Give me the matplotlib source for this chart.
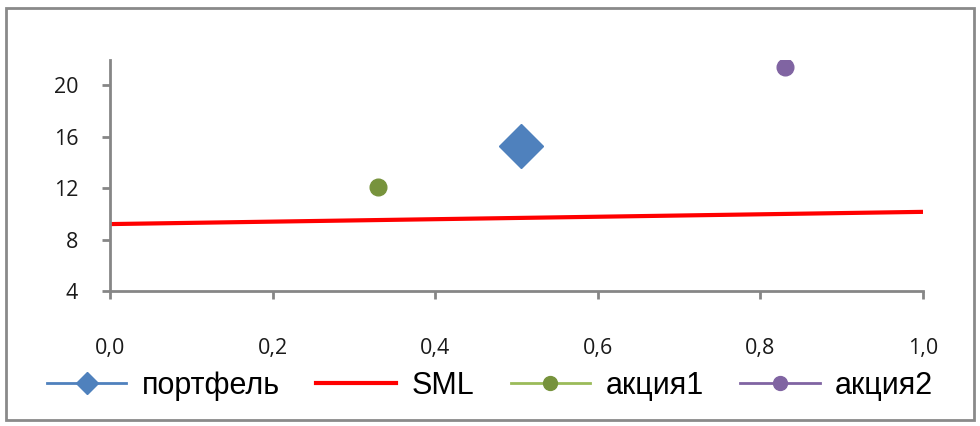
import matplotlib
matplotlib.use("Agg")
import matplotlib.pyplot as plt
from matplotlib.patches import Rectangle
from matplotlib.lines import Line2D

# Series values (beta, expected return %)
portfolio_beta = [0.505]
portfolio_ret = [15.3]
sml_beta = [0.0, 1.0]
sml_ret = [9.2, 10.15]
stock1_beta = [0.33]
stock1_ret = [12.1]
stock2_beta = [0.83]
stock2_ret = [21.4]

x_ticks = [0.0, 0.2, 0.4, 0.6, 0.8, 1.0]
y_ticks = [4, 8, 12, 16, 20]
labels = ["портфель", "SML", "акция1", "акция2"]

blue = "#4F81BD"
red = "#FF0000"
green = "#77933C"
green_line = "#9BBB59"
purple = "#8064A2"
axis_gray = "#868686"

fig = plt.figure(figsize=(9.8, 4.26), dpi=100)
fig.patch.set_facecolor("white")
fig.add_artist(Rectangle((6 / 980, 6 / 426), 968 / 980, 412 / 426,
                         transform=fig.transFigure, fill=False,
                         edgecolor="#8a8a8a", linewidth=2))

ax = fig.add_axes([110 / 980, (426 - 291) / 426, 813 / 980, (291 - 60) / 426])
ax.plot(sml_beta, sml_ret, color=red, linewidth=3, solid_capstyle="butt", zorder=2)
ax.plot(portfolio_beta, portfolio_ret, linestyle="none", marker="D",
        markersize=22, color=blue, zorder=3)
ax.plot(stock1_beta, stock1_ret, linestyle="none", marker="o",
        markersize=12, color=green, zorder=3)
ax.plot(stock2_beta, stock2_ret, linestyle="none", marker="o",
        markersize=12, color=purple, zorder=3)

ax.set_xlim(0, 1.0)
ax.set_ylim(4, 21.95)
ax.set_xticks(x_ticks)
ax.set_yticks(y_ticks)
ax.set_xticklabels([f"{v:.1f}".replace(".", ",") for v in x_ticks])
ax.set_yticklabels([str(v) for v in y_ticks])

for side in ("top", "right"):
    ax.spines[side].set_visible(False)
for side in ("left", "bottom"):
    ax.spines[side].set_color(axis_gray)
    ax.spines[side].set_linewidth(2)

ax.tick_params(axis="both", direction="out", length=6, width=2, color=axis_gray,
               labelsize=15.5, labelcolor="#1a1a1a")
ax.tick_params(axis="x", pad=28)
ax.tick_params(axis="y", pad=17)
for lab in ax.get_xticklabels() + ax.get_yticklabels():
    lab.set_family(["Open Sans", "DejaVu Sans"])

handles = [
    Line2D([], [], color=blue, linewidth=2, marker="D", markersize=11,
           markerfacecolor=blue, markeredgecolor=blue),
    Line2D([], [], color=red, linewidth=3),
    Line2D([], [], color=green_line, linewidth=2, marker="o", markersize=10,
           markerfacecolor=green, markeredgecolor=green),
    Line2D([], [], color=purple, linewidth=2, marker="o", markersize=10,
           markerfacecolor=purple, markeredgecolor=purple),
]
fig.legend(handles, labels, loc="center", bbox_to_anchor=(490 / 980, (426 - 386) / 426),
           ncol=4, frameon=False, handlelength=2.6, handletextpad=0.5,
           columnspacing=1.2, borderaxespad=0, borderpad=0,
           prop={"family": ["Liberation Sans", "DejaVu Sans"], "size": 22})

fig.savefig("out.png", dpi=100, facecolor="white")
